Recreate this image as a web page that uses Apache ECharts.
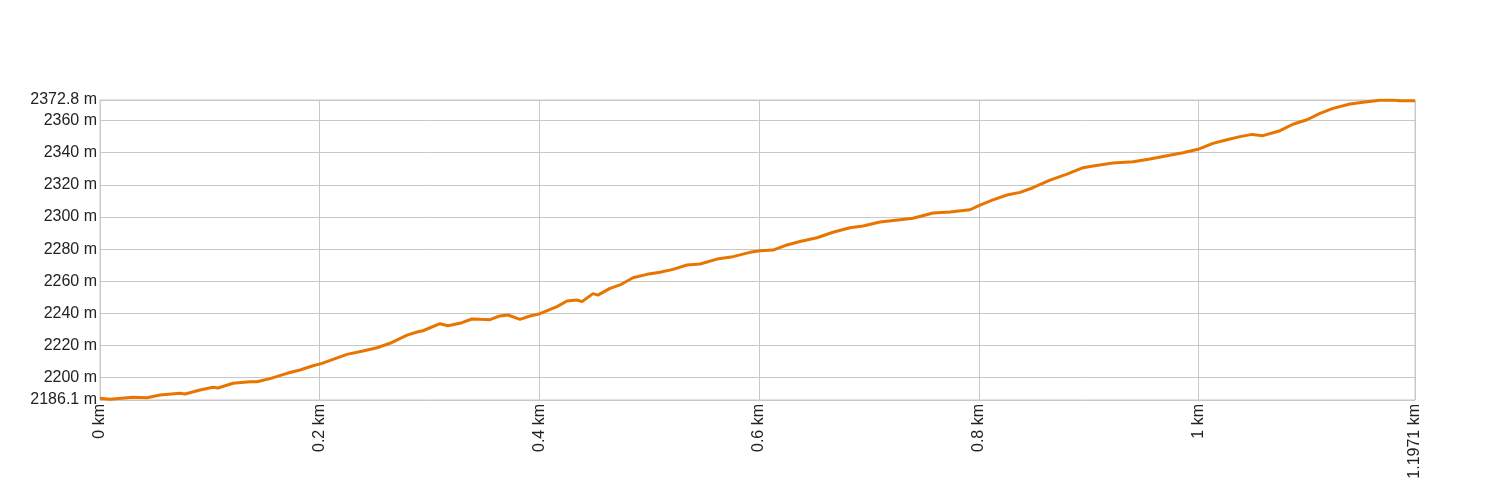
<!DOCTYPE html>
<html>
<head>
<meta charset="utf-8">
<script src="https://cdn.jsdelivr.net/npm/echarts@6/dist/echarts.min.js"></script>
<style>
  html, body { margin: 0; padding: 0; background: #fff; }
  #main { width: 1500px; height: 500px; }
</style>
</head>
<body>
<div id="main"></div>
<script>
// distance along the track (km) and elevation (m)
var distKm = [
  0, 0.0091, 0.0300, 0.0428, 0.0546, 0.0728, 0.0774, 0.0910, 0.1029, 0.1074,
  0.1211, 0.1365, 0.1429, 0.1548, 0.1702, 0.1821, 0.1939, 0.2021, 0.2121, 0.2248,
  0.2394, 0.2522, 0.2640, 0.2795, 0.2895, 0.2940, 0.3095, 0.3168, 0.3295, 0.3386,
  0.3459, 0.3550, 0.3641, 0.3714, 0.3823, 0.3914, 0.4005, 0.4160, 0.4251, 0.4342,
  0.4388, 0.4488, 0.4533, 0.4643, 0.4734, 0.4852, 0.4980, 0.5098, 0.5216, 0.5344,
  0.5462, 0.5617, 0.5762, 0.5917, 0.6008, 0.6127, 0.6254, 0.6372, 0.6527, 0.6673,
  0.6827, 0.6946, 0.7101, 0.7283, 0.7401, 0.7583, 0.7738, 0.7920, 0.8011, 0.8129,
  0.8257, 0.8375, 0.8493, 0.8648, 0.8803, 0.8949, 0.9040, 0.9222, 0.9404, 0.9558,
  0.9713, 0.9859, 0.9995, 1.0132, 1.0260, 1.0378, 1.0487, 1.0587, 1.0742, 1.0860,
  1.0988, 1.1106, 1.1224, 1.1379, 1.1534, 1.1652, 1.1770, 1.1834, 1.1971
];
var elevM = [
  2187.2, 2186.6, 2187.8, 2187.5, 2189.2, 2190.3, 2189.8, 2192.3, 2194.0, 2193.6,
  2196.5, 2197.5, 2197.5, 2199.4, 2202.7, 2204.8, 2207.4, 2208.9, 2211.4, 2214.5,
  2216.6, 2218.6, 2221.4, 2226.5, 2228.6, 2229.2, 2233.6, 2232.3, 2234.2, 2236.5,
  2236.3, 2236.1, 2238.4, 2239.0, 2236.3, 2238.4, 2239.8, 2244.2, 2247.7, 2248.3,
  2247.3, 2252.3, 2251.4, 2255.6, 2257.7, 2262.2, 2264.3, 2265.6, 2267.4, 2270.1,
  2270.7, 2273.8, 2275.3, 2278.0, 2279.0, 2279.4, 2282.6, 2284.7, 2287.1, 2290.5,
  2293.3, 2294.4, 2296.9, 2298.3, 2299.2, 2302.5, 2303.1, 2304.5, 2307.4, 2310.6,
  2313.7, 2315.3, 2318.2, 2322.9, 2326.7, 2330.7, 2331.7, 2333.6, 2334.4, 2336.1,
  2338.1, 2340.0, 2342.1, 2345.8, 2348.1, 2350.0, 2351.4, 2350.6, 2353.7, 2357.7,
  2360.5, 2364.5, 2367.6, 2370.3, 2371.7, 2372.7, 2372.8, 2372.4, 2372.4
];
var xTicks = [0, 0.2, 0.4, 0.6, 0.8, 1, 1.1971];
var yTicks = [2186.1, 2200, 2220, 2240, 2260, 2280, 2300, 2320, 2340, 2360, 2372.8];

var points = [];
for (var i = 0; i < distKm.length; i++) {
  points.push([distKm[i], elevM[i]]);
}

var chart = echarts.init(document.getElementById('main'));
var gridColor = '#c8c8c8';
var labelFont = { fontFamily: 'Liberation Sans, Arial, sans-serif', fontSize: 16, color: '#222' };

chart.setOption({
  animation: false,
  grid: {
    left: 100, right: 85, top: 100, bottom: 100,
    show: true, borderColor: gridColor, borderWidth: 1
  },
  xAxis: {
    type: 'value',
    min: 0,
    max: 1.1971,
    axisLine: { show: false },
    axisTick: { show: false, customValues: xTicks },
    splitLine: { show: true, lineStyle: { color: gridColor, width: 1 } },
    axisLabel: Object.assign({
      rotate: 90,
      margin: 4,
      customValues: xTicks,
      formatter: function (v) { return v + ' km'; }
    }, labelFont)
  },
  yAxis: {
    type: 'value',
    min: 2186.1,
    max: 2372.8,
    axisLine: { show: false },
    axisTick: { show: false, customValues: yTicks },
    splitLine: { show: true, lineStyle: { color: gridColor, width: 1 } },
    axisLabel: Object.assign({
      margin: 3,
      customValues: yTicks,
      formatter: function (v) { return v + ' m'; }
    }, labelFont)
  },
  series: [{
    type: 'line',
    data: points,
    showSymbol: false,
    smooth: false,
    lineStyle: { color: '#e87500', width: 3 }
  }]
});
</script>
</body>
</html>
